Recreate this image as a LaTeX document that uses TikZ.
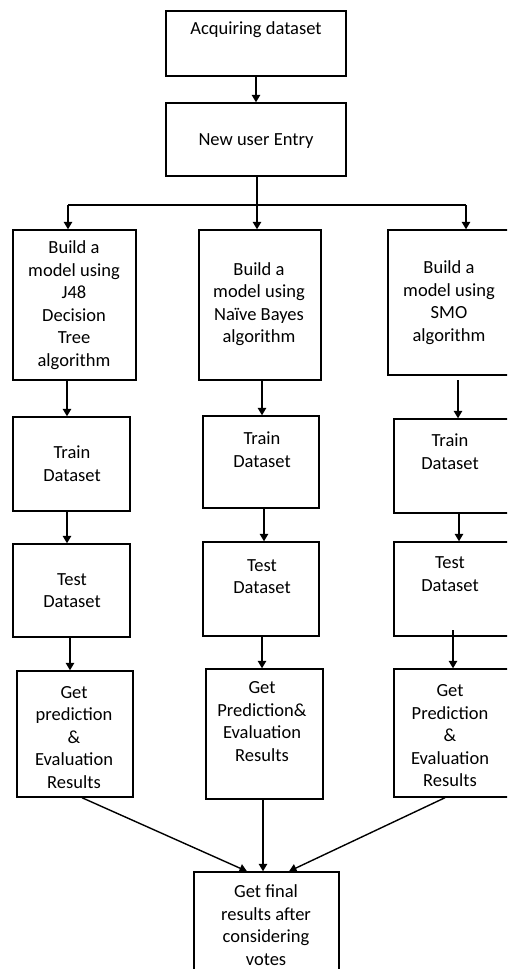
\documentclass[tikz,border=0pt]{standalone}
\usepackage{fontspec}
\setmainfont{Carlito}
\usetikzlibrary{arrows.meta}
\tikzset{
  box/.style={draw, line width=1.4pt, inner sep=0pt, rectangle},
  txt/.style={align=center, inner sep=0pt, font=\fontsize{18.5}{22.5}\selectfont},
  arr/.style={line width=1.4pt, -{Triangle[width=8.5pt,length=7.5pt]}},
  ln/.style={line width=1.4pt}
}
\begin{document}
\begin{tikzpicture}[x=1pt,y=-1pt]
\useasboundingbox (0,0) rectangle (507,969);
\clip (0,0) rectangle (507,969);
% boxes
\node[box, minimum width=180pt, minimum height=65pt] (acq) at (256,43.5) {};
\node[box, minimum width=180pt, minimum height=73pt] (new) at (256,139.5) {};
\node[box, minimum width=123pt, minimum height=150pt] (b1) at (74.5,305) {};
\node[box, minimum width=122pt, minimum height=150pt] (b2) at (260,305) {};
\node[box, minimum width=127pt, minimum height=145pt] (b3) at (451.5,302.5) {};
\node[box, minimum width=117pt, minimum height=94pt] (tr1) at (71.5,464) {};
\node[box, minimum width=116pt, minimum height=92pt] (tr2) at (261,462) {};
\node[box, minimum width=121pt, minimum height=94pt] (tr3) at (454.5,466) {};
\node[box, minimum width=117pt, minimum height=93pt] (te1) at (71.5,590.5) {};
\node[box, minimum width=116pt, minimum height=94pt] (te2) at (261,589) {};
\node[box, minimum width=121pt, minimum height=94pt] (te3) at (454.5,589) {};
\node[box, minimum width=116pt, minimum height=126pt] (g1) at (75,734) {};
\node[box, minimum width=117pt, minimum height=130pt] (g2) at (264.5,734) {};
\node[box, minimum width=121pt, minimum height=128pt] (g3) at (454.5,733) {};
\node[box, minimum width=145pt, minimum height=118pt] (fin) at (266.5,931) {};
% texts
\node[txt] (tacq) at (256,30) {Acquiring dataset};
\node[txt] (tnew) at (256,141) {New user Entry};
\node[txt] (tb1) at (74,305) {Build a\\model using\\J48\\Decision\\Tree\\algorithm};
\node[txt] (tb2) at (259,304) {Build a\\model using\\Naïve Bayes\\algorithm};
\node[txt] (tb3) at (449,302.5) {Build a\\model using\\SMO\\algorithm};
\node[txt] (ttr1) at (72,463.5) {Train\\Dataset};
\node[txt] (ttr2) at (262,449.5) {Train\\Dataset};
\node[txt] (ttr3) at (450,451.5) {Train\\Dataset};
\node[txt] (tte1) at (72,590.5) {Test\\Dataset};
\node[txt] (tte2) at (262,576.5) {Test\\Dataset};
\node[txt] (tte3) at (450,574) {Test\\Dataset};
\node[txt] (tg1) at (74,737.5) {Get\\prediction\\\&\\Evaluation\\Results};
\node[txt] (tg2) at (262,721.5) {Get\\Prediction\&\\Evaluation\\Results};
\node[txt] (tg3) at (450,736) {Get\\Prediction\\\&\\Evaluation\\Results};
\node[txt] (tfin) at (266,925) {Get final\\results after\\considering\\votes};
% connectors
\coordinate (j) at (257,205);
\coordinate (jl) at (68,205);
\coordinate (jr) at (466,205);
\draw[arr] (acq.south) -- (new.north);
\draw[ln] (257,0 |- new.south) -- (j);
\draw[ln] (jl) -- (jr);
\draw[arr] (jl) -- (jl |- b1.north);
\draw[arr] (j) -- (j |- b2.north);
\draw[arr] (jr) -- (jr |- b3.north);
\draw[arr] (67,0 |- b1.south) -- (67,0 |- tr1.north);
\draw[arr] (262,0 |- b2.south) -- (262,0 |- tr2.north);
\draw[arr] (458,380) -- (458,0 |- tr3.north);
\draw[arr] (67,0 |- tr1.south) -- (67,0 |- te1.north);
\draw[arr] (264,0 |- tr2.south) -- (264,0 |- te2.north);
\draw[arr] (459,0 |- tr3.south) -- (459,0 |- te3.north);
\draw[arr] (70,0 |- te1.south) -- (70,0 |- g1.north);
\draw[arr] (262,0 |- te2.south) -- (262,0 |- g2.north);
\draw[arr] (453,630) -- (453,0 |- g3.north);
\draw[arr] (82,0 |- g1.south) -- (247,0 |- fin.north);
\draw[arr] (263,0 |- g2.south) -- (263,0 |- fin.north);
\draw[arr] (445,0 |- g3.south) -- (289,0 |- fin.north);
\end{tikzpicture}
\end{document}
